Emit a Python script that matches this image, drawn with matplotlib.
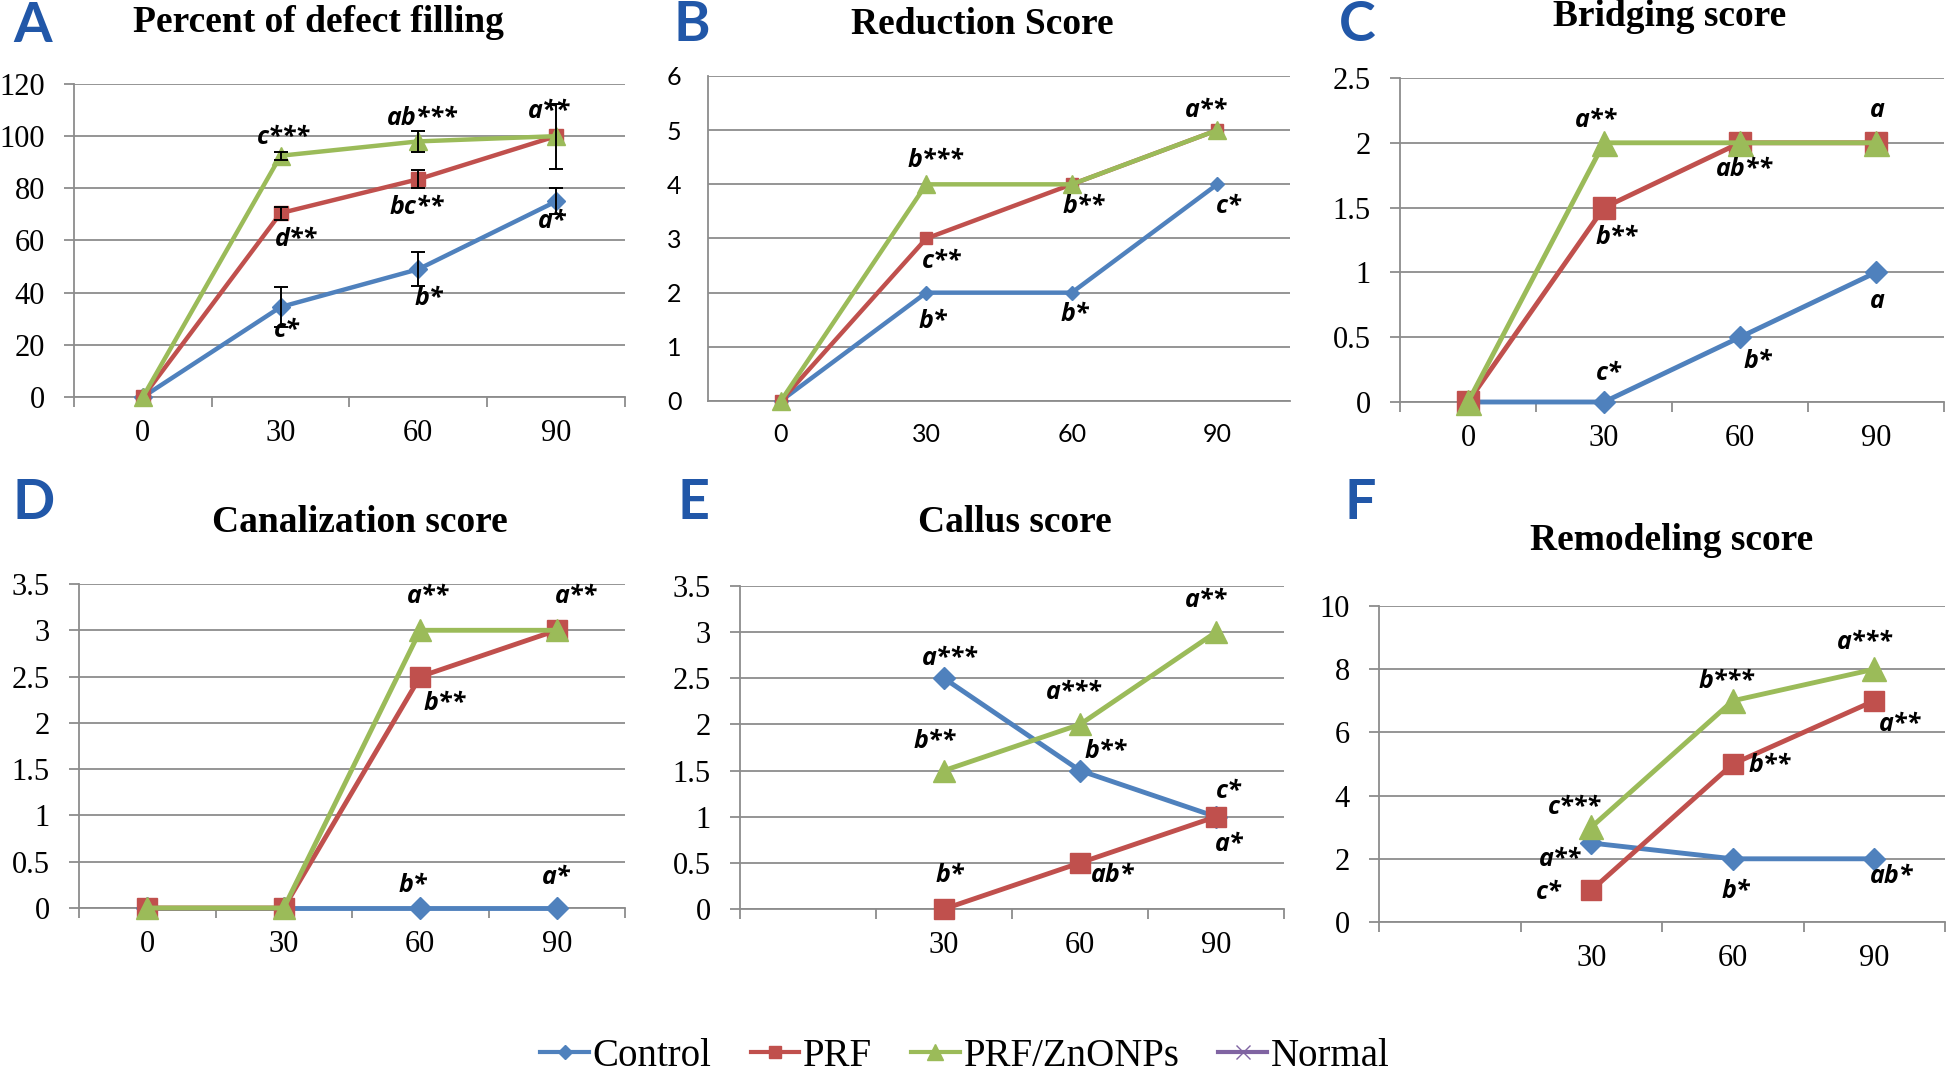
import matplotlib
matplotlib.use('Agg')
import matplotlib.pyplot as plt
import numpy as np
from matplotlib.lines import Line2D

W, H = 1952, 1072

# categories (days)
days = ['0', '30', '60', '90']
days_late = ['', '30', '60', '90']

# A - percent of defect filling
defect_control = [0, 34.5, 49, 75]
defect_control_err = [0, 7.5, 6.5, 5]
defect_prf = [0, 70.5, 83.5, 100]
defect_prf_err = [0, 2.5, 3.5, 12.5]
defect_zno = [0, 92.5, 98, 100]
defect_zno_err = [0, 1.5, 4, 0]

# B - reduction score
reduction_control = [0, 2, 2, 4]
reduction_prf = [0, 3, 4, 5]
reduction_zno = [0, 4, 4, 5]

# C - bridging score
bridging_control = [0, 0, 0.5, 1]
bridging_prf = [0, 1.5, 2, 2]
bridging_zno = [0, 2, 2, 2]

# D - canalization score
canal_control = [0, 0, 0, 0]
canal_prf = [0, 0, 2.5, 3]
canal_zno = [0, 0, 3, 3]

# E - callus score (no day 0)
callus_control = [np.nan, 2.5, 1.5, 1]
callus_prf = [np.nan, 0, 0.5, 1]
callus_zno = [np.nan, 1.5, 2, 3]

# F - remodeling score (no day 0)
remod_control = [np.nan, 2.5, 2, 2]
remod_prf = [np.nan, 1, 5, 7]
remod_zno = [np.nan, 3, 7, 8]

# significance letters: (series, category, text, dx px, dy px)
notes_a = [(2, 1, 'c***', 3, 18), (2, 2, 'ab***', 4, 23), (2, 3, 'a**', -7, 25),
           (1, 1, 'd**', 15, -26), (1, 2, 'bc**', -2, -28),
           (0, 1, 'c*', 6, -23), (0, 2, 'b*', 10, -29), (0, 3, 'a*', -4, -20)]
notes_b = [(2, 1, 'b***', 9, 24), (1, 1, 'c**', 15, -23), (1, 2, 'b**', 12, -22),
           (2, 3, 'a**', -11, 20), (0, 1, 'b*', 7, -29), (0, 2, 'b*', 3, -22),
           (0, 3, 'c*', 12, -22)]
notes_c = [(2, 1, 'a**', -8, 22), (1, 1, 'b**', 13, -30), (1, 2, 'ab**', 4, -27),
           (2, 3, 'a', 1, 32), (0, 1, 'c*', 5, 29), (0, 2, 'b*', 18, -24),
           (0, 3, 'a', 1, -29)]
notes_d = [(2, 2, 'a**', 8, 34), (2, 3, 'a**', 19, 34), (1, 2, 'b**', 24, -27),
           (0, 2, 'b*', -7, 23), (0, 3, 'a*', -1, 30)]
notes_e = [(0, 1, 'a***', 6, 20), (2, 1, 'b**', -9, 29), (2, 2, 'a***', -6, 32),
           (0, 2, 'b**', 26, 19), (2, 3, 'a**', -10, 32), (1, 3, 'c*', 13, 25),
           (1, 3, 'a*', 13, -28), (1, 1, 'b*', 6, 34), (1, 2, 'ab*', 33, -13)]
notes_f = [(2, 1, 'c***', -17, 20), (0, 1, 'a**', -31, -17), (1, 1, 'c*', -42, -2),
           (2, 2, 'b***', -6, 19), (1, 2, 'b**', 37, -1), (0, 2, 'b*', 3, -33),
           (2, 3, 'a***', -9, 27), (1, 3, 'a**', 26, -24), (0, 3, 'ab*', 17, -18)]

colors = ['#4F81BD', '#C0504D', '#9BBB59', '#8064A2']
markers = ['D', 's', '^']
grid_c = '#8c8c8c'
serif = 'Liberation Serif'
sans = 'Lato'
note_font = 'Open Sans'

fig = plt.figure(figsize=(W / 100, H / 100), dpi=100)


def box(x0, x1, ytop, ybot):
    return [x0 / W, 1 - ybot / H, (x1 - x0) / W, (ybot - ytop) / H]


def panel(rect, cats, series, ylim, ystep, notes, msz, lw, errs=None,
          tickfont=serif, tsize=22, ticks=True):
    ax = fig.add_axes(rect)
    x = np.arange(len(cats))
    for i, ys in enumerate(series):
        ax.plot(x, ys, color=colors[i], marker=markers[i], ms=msz[i], lw=lw,
                mec=colors[i], clip_on=False, zorder=3 + i)
    if errs is not None:
        for i, (ys, es) in enumerate(zip(series, errs)):
            ys = np.array(ys, float)
            es = np.array(es, float)
            keep = es > 0
            ax.errorbar(x[keep], ys[keep], yerr=es[keep], fmt='none', ecolor='black',
                        elinewidth=1.4, capsize=5, capthick=1.4, zorder=7)
    for s, c, txt, dx, dy in notes:
        ax.annotate(txt, (x[c], series[s][c]), xytext=(dx, dy), textcoords='offset pixels',
                    ha='center', va='center', fontsize=18, fontweight='bold',
                    fontstyle='italic', family=note_font, zorder=10)
    ax.set_xlim(-0.5, len(cats) - 0.5)
    ax.set_ylim(*ylim)
    yt = np.arange(ylim[0], ylim[1] + ystep / 2, ystep)
    ax.set_yticks(yt)
    ax.set_yticklabels(['%g' % v for v in yt], fontfamily=tickfont, fontsize=tsize)
    ax.set_xticks(x)
    ax.set_xticklabels(cats, fontfamily=tickfont, fontsize=tsize)
    ax.set_xticks(np.arange(-0.5, len(cats)), minor=True)
    ax.grid(axis='y', color=grid_c, lw=1.3)
    ax.set_axisbelow(True)
    for sp in ['top', 'right']:
        ax.spines[sp].set_visible(False)
    for sp in ['left', 'bottom']:
        ax.spines[sp].set_color(grid_c)
        ax.spines[sp].set_linewidth(1.3)
    if ticks:
        ax.tick_params(axis='y', direction='out', length=7, width=1.3, color=grid_c, pad=14)
        ax.tick_params(axis='x', which='major', length=0, pad=16)
        ax.tick_params(axis='x', which='minor', direction='out', length=7, width=1.3,
                       color=grid_c)
    else:
        ax.tick_params(axis='y', length=0, pad=19)
        ax.tick_params(axis='x', which='both', length=0, pad=16)
    return ax


ax_a = panel(box(74, 625, 84, 397), days, [defect_control, defect_prf, defect_zno],
             (0, 120), 20, notes_a, (8.7, 10.5, 13.5), 3.2,
             errs=[defect_control_err, defect_prf_err, defect_zno_err])
ax_b = panel(box(708, 1290, 76, 401), days, [reduction_control, reduction_prf, reduction_zno],
             (0, 6), 1, notes_b, (7.5, 9, 13.5), 3.2, tickfont=sans, tsize=18, ticks=False)
ax_c = panel(box(1400, 1944, 78, 402), days, [bridging_control, bridging_prf, bridging_zno],
             (0, 2.5), 0.5, notes_c, (10.7, 16.5, 18), 3.5)
ax_d = panel(box(79, 625, 584, 908), days, [canal_control, canal_prf, canal_zno],
             (0, 3.5), 0.5, notes_d, (10.7, 15, 16.5), 3.5)
ax_e = panel(box(740, 1284, 586, 909), days_late, [callus_control, callus_prf, callus_zno],
             (0, 3.5), 0.5, notes_e, (10.7, 15, 16.5), 3.5)
ax_f = panel(box(1379, 1945, 606, 922), days_late, [remod_control, remod_prf, remod_zno],
             (0, 10), 2, notes_f, (10.7, 15, 17), 3.5)

# titles
titles = [('Percent of defect filling', 318, 23), ('Reduction Score', 982, 25),
          ('Bridging score', 1670, 17), ('Canalization score', 360, 522),
          ('Callus score', 1015, 523), ('Remodeling score', 1672, 540)]
for t, tx, ty in titles:
    fig.text(tx / W, 1 - ty / H, t, ha='center', va='center', family=serif,
             fontweight='bold', fontsize=27)

# panel letters
letters = [('A', 33, 26), ('B', 692, 25), ('C', 1357, 25),
           ('D', 34, 503), ('E', 694, 503), ('F', 1360, 503)]
for t, tx, ty in letters:
    fig.text(tx / W, 1 - ty / H, t, ha='center', va='center', family=sans,
             fontweight='bold', fontsize=40, color='#2157A8')

# legend
names = ['Control', 'PRF', 'PRF/ZnONPs', 'Normal']
leg_markers = ['D', 's', '^', 'x']
leg_ms = [7, 9, 11, 10]
handles = [Line2D([], [], color=colors[i], marker=leg_markers[i], ms=leg_ms[i], lw=3,
                  mew=1, mec=colors[i]) for i in range(4)]
fig.legend(handles, names, loc='center', bbox_to_anchor=(965 / W, 1 - 1056 / H), ncol=4,
           frameon=False, prop={'family': serif, 'size': 28}, handlelength=1.25,
           handletextpad=0.1, columnspacing=1.0)

fig.savefig('out.png', dpi=100)
